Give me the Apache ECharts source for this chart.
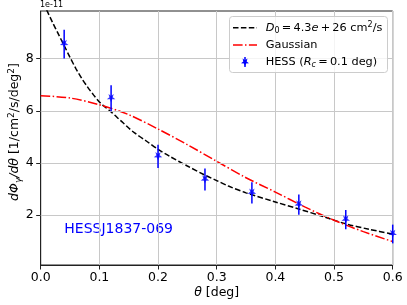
<!DOCTYPE html>
<html><head><meta charset="utf-8">
<script src="https://cdn.jsdelivr.net/npm/echarts@6/dist/echarts.min.js"></script>
<style>html,body{margin:0;padding:0;background:#fff}#c{width:407px;height:305px}</style>
</head><body><div id="c"></div>
<script>
// theta grid for the diffusion model curve (deg) and its values (x1e-11)
const modelTheta = [0.005,0.01,0.02,0.03,0.04,0.05,0.06,0.07,0.08,0.09,0.10,0.11,0.12,0.13,0.14,0.15,0.16,0.18,0.20,0.22,0.25,0.28,0.30,0.32,0.35,0.40,0.44,0.48,0.52,0.56,0.60];
const modelVals  = [10.15,9.88,9.40,8.95,8.50,8.05,7.62,7.24,6.91,6.61,6.34,6.14,5.96,5.75,5.55,5.34,5.15,4.84,4.52,4.25,3.88,3.53,3.32,3.11,2.85,2.50,2.23,1.95,1.66,1.45,1.27];
// Gaussian curve
const gaussTheta = [0,0.05,0.10,0.15,0.20,0.25,0.30,0.35,0.40,0.45,0.50,0.55,0.60];
const gaussVals  = [6.58,6.49,6.23,5.85,5.30,4.70,4.06,3.43,2.88,2.31,1.80,1.36,0.98];
// HESS data points
const hessTheta = [0.04,0.12,0.20,0.28,0.36,0.44,0.52,0.60];
const hessVals  = [8.56,6.48,4.25,3.36,2.85,2.40,1.82,1.27];
const hessErr   = [0.55,0.50,0.45,0.42,0.41,0.39,0.37,0.36];
const xTicks = [0,0.1,0.2,0.3,0.4,0.5,0.6];
const yTicks = [2,4,6,8];

const FONT = 'DejaVu Sans';
const starPath = 'path://M0,10 L2.35,3.24 L9.51,3.09 L3.8,-1.24 L5.88,-8.09 L0,-4 L-5.88,-8.09 L-3.8,-1.24 L-9.51,3.09 L-2.35,3.24 Z';
function starPts(cx,cy,r){
  const pts=[];
  for(let k=0;k<10;k++){
    const rr = k%2===0 ? r : r*0.42;
    const a = Math.PI/2 + k*Math.PI/5;
    pts.push([cx+rr*Math.cos(a), cy+rr*Math.sin(a)]);
  }
  return pts;
}

const chart = echarts.init(document.getElementById('c'), null, {renderer:'canvas'});
const zip = (a,b)=>a.map((v,i)=>[v,b[i]]);
const TS = '\u2009';

chart.setOption({
  animation:false,
  textStyle:{fontFamily:FONT},
  grid:{left:40.7,right:14.3,top:11,bottom:40,show:true,borderColor:'#222',borderWidth:1,containLabel:false},
  xAxis:{type:'value',min:0,max:0.6,interval:0.1,
    axisLine:{show:true,lineStyle:{color:'#222',width:1}},
    axisTick:{show:true,inside:false,length:4.5,lineStyle:{color:'#222'}},
    axisLabel:{margin:6,fontSize:12.5,color:'#000',fontFamily:FONT,formatter:v=>v.toFixed(1)},
    splitLine:{show:true,lineStyle:{color:'#c8c8c8',width:1}}},
  yAxis:{type:'value',min:0.08,max:9.83,
    axisLine:{show:true,lineStyle:{color:'#222',width:1}},
    axisTick:{show:true,length:4.5,customValues:yTicks,lineStyle:{color:'#222'}},
    axisLabel:{margin:7,fontSize:12.5,color:'#000',fontFamily:FONT,customValues:yTicks},
    splitLine:{show:false}},
  series:[
    {type:'line',data:yTicks.map(v=>[0,v]),showSymbol:false,lineStyle:{opacity:0},silent:true,
      markLine:{silent:true,symbol:['none','none'],label:{show:false},
        lineStyle:{color:'#c8c8c8',width:1,type:'solid'},data:yTicks.map(v=>({yAxis:v}))}},
    {type:'line',data:zip(modelTheta,modelVals),smooth:0.3,showSymbol:false,clip:true,
      lineStyle:{color:'#000',width:1.5,type:[5.5,2.4]},z:3},
    {type:'line',data:zip(gaussTheta,gaussVals),smooth:0.3,showSymbol:false,clip:true,
      lineStyle:{color:'#ff0000',width:1.5,type:[9.6,2.4,1.5,2.4]},z:3},
    {type:'custom',z:5,clip:false,
      data:hessTheta.map((t,i)=>[t,hessVals[i],hessErr[i]]),
      renderItem:(p,api)=>{
        const x=api.value(0),y=api.value(1),e=api.value(2);
        const a=api.coord([x,y+e]),b=api.coord([x,y-e]);
        return {type:'line',shape:{x1:a[0],y1:a[1],x2:b[0],y2:b[1]},style:{stroke:'#0000ff',lineWidth:1.5}};
      }},
    {type:'scatter',z:6,data:zip(hessTheta,hessVals),symbol:starPath,symbolSize:8.5,
      itemStyle:{color:'#0000ff'},clip:false}
  ],
  graphic:[
    {type:'text',left:40,top:1,style:{text:'1e-11',font:'8px "DejaVu Sans"',fill:'#000'}},
    {type:'text',x:15,y:132,rotation:Math.PI/2,style:{
      text:'{i|dΦ}{sb|γ}{i|/dθ}{n| [1/cm}{sp|2}{n|/s/deg}{sp|2}{n|]}',
      align:'center',verticalAlign:'middle',fill:'#000',
      rich:{i:{fontSize:12.5,fontStyle:'italic',fontFamily:FONT,lineHeight:16},
            n:{fontSize:12.5,fontFamily:FONT,lineHeight:16},
            sb:{fontSize:9,fontStyle:'italic',fontFamily:FONT,lineHeight:8,verticalAlign:'bottom'},
            sp:{fontSize:9,fontFamily:FONT,lineHeight:8,verticalAlign:'top'}}}},
    {type:'text',x:216.7,y:292.3,style:{
      text:'{i|θ}{n| [deg]}',align:'center',verticalAlign:'middle',fill:'#000',
      rich:{i:{fontSize:12.5,fontStyle:'italic',fontFamily:FONT},n:{fontSize:12.5,fontFamily:FONT}}}},
    {type:'text',x:64.3,y:229,style:{text:'HESSJ1837-069',fontSize:14,fontFamily:FONT,fill:'#0000ff',verticalAlign:'middle'}},
    // legend
    {type:'rect',shape:{x:229.5,y:16.5,width:158,height:56,r:3},style:{fill:'rgba(255,255,255,0.8)',stroke:'#cccccc',lineWidth:1},z:10},
    {type:'line',shape:{x1:233,y1:27.7,x2:257,y2:27.7},style:{stroke:'#000',lineWidth:1.5,lineDash:[5.5,2.4]},z:11},
    {type:'line',shape:{x1:233,y1:45,x2:257,y2:45},style:{stroke:'#ff0000',lineWidth:1.5,lineDash:[9.6,2.4,1.5,2.4]},z:11},
    {type:'line',shape:{x1:245,y1:57,x2:245,y2:67},style:{stroke:'#0000ff',lineWidth:1.5},z:11},
    {type:'polygon',shape:{points:starPts(245,62,4.2)},style:{fill:'#0000ff'},z:12},
    {type:'text',x:265.7,y:27.7,z:11,style:{
      text:'{i|D}{sb|0}{n|'+TS+'='+TS+'4.3}{i|e}{n|'+TS+'+'+TS+'26 cm}{sp|2}{n|/s}',verticalAlign:'middle',fill:'#000',
      rich:{i:{fontSize:11.3,fontStyle:'italic',fontFamily:FONT,lineHeight:14},
            n:{fontSize:11.3,fontFamily:FONT,lineHeight:14},
            sb:{fontSize:8,fontFamily:FONT,lineHeight:6,verticalAlign:'bottom'},
            sp:{fontSize:8,fontFamily:FONT,lineHeight:6,verticalAlign:'top'}}}},
    {type:'text',x:265.7,y:45,z:11,style:{text:'Gaussian',fontSize:11.3,fontFamily:FONT,fill:'#000',verticalAlign:'middle'}},
    {type:'text',x:265.7,y:62,z:11,style:{
      text:'{n|HESS (}{i|R}{sb|c}{n|'+TS+'='+TS+'0.1 deg)}',verticalAlign:'middle',fill:'#000',
      rich:{i:{fontSize:11.3,fontStyle:'italic',fontFamily:FONT,lineHeight:14},
            n:{fontSize:11.3,fontFamily:FONT,lineHeight:14},
            sb:{fontSize:8,fontStyle:'italic',fontFamily:FONT,lineHeight:6,verticalAlign:'bottom'}}}}
  ]
});
</script>
</body></html>
